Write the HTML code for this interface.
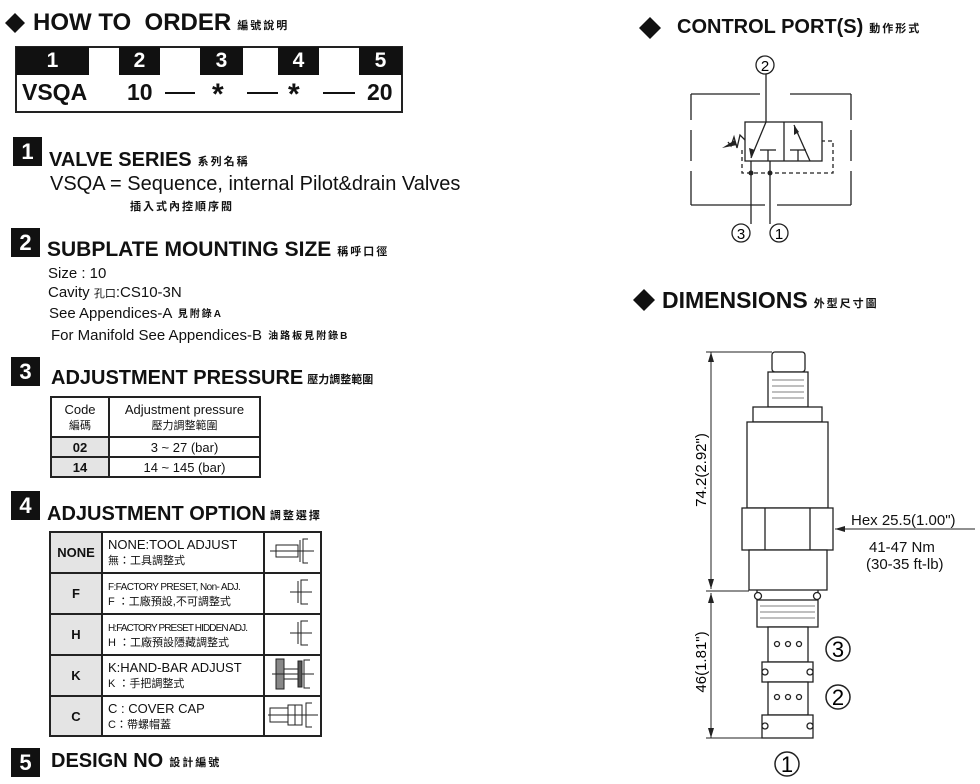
<!DOCTYPE html>
<html><head><meta charset="utf-8"><style>
body{margin:0;width:980px;height:784px;background:#fff;position:relative;overflow:hidden;font-family:"Liberation Sans","Noto Sans CJK TC",sans-serif;color:#111}
.t{position:absolute;white-space:nowrap;line-height:1}
.b{font-weight:bold}
.cj{font-size:11px;font-weight:bold;letter-spacing:2px;margin-left:6px;vertical-align:1px}
.nb{position:absolute;background:#111;color:#fff;font-weight:bold;font-size:22px;text-align:center;width:29px;height:29px;line-height:29px}
table{position:absolute;border-collapse:collapse}
td{border:2px solid #222;text-align:center;padding:0}
.cd{font-size:10px;letter-spacing:-0.6px}
</style></head><body>
<svg width="980" height="784" style="position:absolute;left:0;top:0">
<polygon points="15,13 25,23 15,33 5,23" fill="#111"/>
<polygon points="650,17 661,28 650,39 639,28" fill="#111"/>
<polygon points="644,289 655,300 644,311 633,300" fill="#111"/>
<rect x="16" y="47" width="386" height="65" fill="#fff" stroke="#222" stroke-width="2"/>
<rect x="16" y="47" width="73" height="28" fill="#111"/>
<rect x="119" y="47" width="41" height="28" fill="#111"/>
<rect x="200" y="47" width="43" height="28" fill="#111"/>
<rect x="278" y="47" width="41" height="28" fill="#111"/>
<rect x="359" y="47" width="43" height="28" fill="#111"/>
<g stroke="#111" stroke-width="2"><line x1="165" y1="93" x2="195" y2="93"/><line x1="247" y1="93" x2="278" y2="93"/><line x1="323" y1="93" x2="355" y2="93"/></g>
<g stroke="#222" stroke-width="1.3" fill="none">
<path d="M691,94H760M790,94H851M691,205H765M777,205H851M691,94V120M691,130V161M691,171V205M851,94V120M851,130V161M851,171V205"/>
<rect x="745" y="122" width="77" height="39"/>
<line x1="784" y1="122" x2="784" y2="161"/>
<line x1="766" y1="74" x2="766" y2="122"/>
<line x1="766" y1="122" x2="751" y2="158"/>
<line x1="794" y1="125" x2="810" y2="161"/>
<line x1="760" y1="150" x2="776" y2="150"/><line x1="768" y1="150" x2="768" y2="161"/>
<line x1="790" y1="150" x2="806" y2="150"/><line x1="798" y1="150" x2="798" y2="161"/>
<path d="M742,150V173H833V141H822" stroke-dasharray="4 3"/>
<line x1="751" y1="161" x2="751" y2="224"/>
<line x1="770" y1="161" x2="770" y2="224"/>
<path d="M745,140L740,135L737,148L734,137L731,146L728,142"/>
<circle cx="765" cy="65" r="9"/><circle cx="741" cy="233" r="9"/><circle cx="779" cy="233" r="9"/>
</g>
<polygon points="751,158 749,148 755,150" fill="#222"/>
<polygon points="794,125 794,135 799,132" fill="#222"/>
<polygon points="722,148 735,140 737,145" fill="#222"/>
<circle cx="751" cy="173" r="2.5" fill="#222"/><circle cx="770" cy="173" r="2.5" fill="#222"/>
<text x="765" y="71" font-size="15" text-anchor="middle" font-family="Liberation Sans">2</text>
<text x="741" y="239" font-size="15" text-anchor="middle" font-family="Liberation Sans">3</text>
<text x="779" y="239" font-size="15" text-anchor="middle" font-family="Liberation Sans">1</text>
<g stroke="#222" stroke-width="1.3" fill="#fff">
<rect x="772" y="352" width="33" height="20" rx="3"/>
<rect x="768" y="372" width="40" height="35"/>
<rect x="753" y="407" width="69" height="15"/>
<rect x="747" y="422" width="81" height="86"/>
<rect x="742" y="508" width="91" height="42"/>
<line x1="765" y1="508" x2="765" y2="550"/><line x1="810" y1="508" x2="810" y2="550"/>
<rect x="749" y="550" width="78" height="40"/>
<rect x="757" y="600" width="61" height="27"/>
<rect x="768" y="627" width="40" height="35"/>
<rect x="762" y="662" width="51" height="20"/>
<rect x="768" y="682" width="40" height="33"/>
<rect x="762" y="715" width="51" height="23"/>
<line x1="757" y1="590" x2="757" y2="600"/><line x1="818" y1="590" x2="818" y2="600"/>
<circle cx="758" cy="596" r="3.5"/><circle cx="817" cy="596" r="3.5"/>
<circle cx="765" cy="672" r="3"/><circle cx="810" cy="672" r="3"/>
<circle cx="765" cy="726" r="3"/><circle cx="810" cy="726" r="3"/>
<circle cx="777" cy="644" r="2.5"/><circle cx="788" cy="644" r="2.5"/><circle cx="799" cy="644" r="2.5"/>
<circle cx="777" cy="697" r="2.5"/><circle cx="788" cy="697" r="2.5"/><circle cx="799" cy="697" r="2.5"/>
</g>
<g stroke="#555" stroke-width="0.8"><line x1="772" y1="380" x2="804" y2="380"/><line x1="772" y1="386" x2="804" y2="386"/><line x1="772" y1="392" x2="804" y2="392"/><line x1="772" y1="398" x2="804" y2="398"/>
<line x1="760" y1="606" x2="815" y2="606"/><line x1="760" y1="612" x2="815" y2="612"/><line x1="760" y1="618" x2="815" y2="618"/></g>
<g stroke="#222" stroke-width="1" fill="none">
<line x1="706" y1="352" x2="772" y2="352"/><line x1="706" y1="591" x2="749" y2="591"/><line x1="706" y1="738" x2="762" y2="738"/>
<line x1="711" y1="352" x2="711" y2="589"/><line x1="711" y1="593" x2="711" y2="738"/>
<line x1="835" y1="529" x2="975" y2="529"/>
<circle cx="838" cy="649" r="12" stroke-width="1.5"/><circle cx="838" cy="697" r="12" stroke-width="1.5"/><circle cx="787" cy="764" r="12" stroke-width="1.5"/>
</g>
<g fill="#222"><polygon points="711,352 708,362 714,362"/><polygon points="711,589 708,579 714,579"/><polygon points="711,593 708,603 714,603"/><polygon points="711,738 708,728 714,728"/><polygon points="835,529 845,526 845,532"/></g>
<text x="838" y="657" font-size="22" text-anchor="middle" font-family="Liberation Sans">3</text>
<text x="838" y="705" font-size="22" text-anchor="middle" font-family="Liberation Sans">2</text>
<text x="787" y="772" font-size="22" text-anchor="middle" font-family="Liberation Sans">1</text>
<text transform="translate(706,470) rotate(-90)" font-size="15" text-anchor="middle" font-family="Liberation Sans">74.2(2.92")</text>
<text transform="translate(706,662) rotate(-90)" font-size="15" text-anchor="middle" font-family="Liberation Sans">46(1.81")</text>
</svg>

<div class="t b" style="left:33px;top:11px;font-size:24px">HOW TO&nbsp; ORDER<span class="cj">編號說明</span></div>
<div class="t b" style="left:16px;top:50px;width:73px;text-align:center;color:#fff;font-size:21px">1</div>
<div class="t b" style="left:119px;top:50px;width:41px;text-align:center;color:#fff;font-size:21px">2</div>
<div class="t b" style="left:200px;top:50px;width:43px;text-align:center;color:#fff;font-size:21px">3</div>
<div class="t b" style="left:278px;top:50px;width:41px;text-align:center;color:#fff;font-size:21px">4</div>
<div class="t b" style="left:359px;top:50px;width:43px;text-align:center;color:#fff;font-size:21px">5</div>
<div class="t b" style="left:22px;top:81px;font-size:23px">VSQA</div>
<div class="t b" style="left:127px;top:81px;font-size:23px">10</div>
<div class="t b" style="left:212px;top:80px;font-size:30px">*</div>
<div class="t b" style="left:288px;top:80px;font-size:30px">*</div>
<div class="t b" style="left:367px;top:81px;font-size:23px">20</div>

<div class="nb" style="left:13px;top:137px">1</div>
<div class="t b" style="left:49px;top:150px;font-size:20px">VALVE SERIES<span class="cj">系列名稱</span></div>
<div class="t" style="left:50px;top:174px;font-size:20px">VSQA = Sequence, internal Pilot&amp;drain Valves</div>
<div class="t cj" style="left:124px;top:202px">插入式內控順序閥</div>

<div class="nb" style="left:11px;top:228px">2</div>
<div class="t b" style="left:47px;top:239px;font-size:21px">SUBPLATE MOUNTING SIZE<span class="cj">稱呼口徑</span></div>
<div class="t" style="left:48px;top:266px;font-size:15px">Size : 10</div>
<div class="t" style="left:48px;top:285px;font-size:15px">Cavity <span style="font-size:11px">孔口</span>:CS10-3N</div>
<div class="t" style="left:49px;top:306px;font-size:15px">See Appendices-A <span class="cj" style="font-size:10px;margin-left:2px">見附錄A</span></div>
<div class="t" style="left:51px;top:328px;font-size:15px">For Manifold See Appendices-B <span class="cj" style="font-size:10px;margin-left:2px">油路板見附錄B</span></div>

<div class="nb" style="left:11px;top:357px">3</div>
<div class="t b" style="left:51px;top:368px;font-size:20px">ADJUSTMENT PRESSURE<span class="cj" style="letter-spacing:0;margin-left:4px">壓力調整範圍</span></div>
<table style="left:50px;top:396px;width:211px;font-size:13px">
<tr style="height:40px"><td style="width:56px">Code<br><span style="font-size:11px">編碼</span></td><td>Adjustment pressure<br><span style="font-size:11px">壓力調整範圍</span></td></tr>
<tr style="height:20px"><td class="b" style="background:#e4e4e4">02</td><td>3 ~ 27 (bar)</td></tr>
<tr style="height:20px"><td class="b" style="background:#e4e4e4">14</td><td>14 ~ 145 (bar)</td></tr>
</table>

<div class="nb" style="left:11px;top:491px">4</div>
<div class="t b" style="left:47px;top:504px;font-size:20px">ADJUSTMENT OPTION<span class="cj" style="margin-left:4px">調整選擇</span></div>
<table style="left:49px;top:531px;width:273px;font-size:12px">
<tr style="height:41px"><td class="b" style="width:50px;background:#e4e4e4;font-size:13px">NONE</td><td style="text-align:left;padding-left:5px;width:155px;font-size:13px">NONE:TOOL ADJUST<br><span style="font-size:11px">無：工具調整式</span></td><td><svg width="50" height="30"><g stroke="#222" fill="none"><rect x="8" y="9" width="22" height="12"/><line x1="2" y1="15" x2="46" y2="15"/><line x1="32" y1="4" x2="32" y2="26"/><path d="M40,3H35V27H40"/></g></svg></td></tr>
<tr style="height:41px"><td class="b" style="background:#e4e4e4;font-size:13px">F</td><td style="text-align:left;padding-left:5px"><span class="cd">F:FACTORY PRESET, Non- ADJ.</span><br><span style="font-size:11px">F ：工廠預設,不可調整式</span></td><td><svg width="50" height="30"><g stroke="#222" fill="none"><line x1="22" y1="15" x2="44" y2="15"/><line x1="30" y1="4" x2="30" y2="26"/><path d="M40,3H33V27H40"/></g></svg></td></tr>
<tr style="height:41px"><td class="b" style="background:#e4e4e4;font-size:13px">H</td><td style="text-align:left;padding-left:5px"><span class="cd" style="letter-spacing:-0.9px">H:FACTORY PRESET HIDDEN ADJ.</span><br><span style="font-size:11px">H ：工廠預設隱藏調整式</span></td><td><svg width="50" height="30"><g stroke="#222" fill="none"><line x1="22" y1="15" x2="44" y2="15"/><line x1="30" y1="4" x2="30" y2="26"/><path d="M40,3H33V27H40"/></g></svg></td></tr>
<tr style="height:41px"><td class="b" style="background:#e4e4e4;font-size:13px">K</td><td style="text-align:left;padding-left:5px;font-size:13px">K:HAND-BAR ADJUST<br><span style="font-size:11px">K ：手把調整式</span></td><td><svg width="50" height="34"><g stroke="#222" fill="none"><rect x="8" y="2" width="8" height="30" fill="#888"/><line x1="4" y1="17" x2="46" y2="17"/><rect x="16" y="12" width="14" height="10"/><rect x="30" y="4" width="4" height="26" fill="#555"/><path d="M42,3H36V31H42"/></g></svg></td></tr>
<tr style="height:40px"><td class="b" style="background:#e4e4e4;font-size:13px">C</td><td style="text-align:left;padding-left:5px;font-size:13px">C : COVER CAP<br><span style="font-size:11px">C：帶螺帽蓋</span></td><td><svg width="54" height="30"><g stroke="#222" fill="none"><rect x="4" y="8" width="18" height="14"/><rect x="22" y="5" width="14" height="20"/><line x1="29" y1="5" x2="29" y2="25"/><line x1="2" y1="15" x2="52" y2="15"/><path d="M46,3H40V27H46"/></g></svg></td></tr>
</table>

<div class="nb" style="left:11px;top:748px">5</div>
<div class="t b" style="left:51px;top:751px;font-size:20px">DESIGN NO<span class="cj">設計編號</span></div>

<div class="t b" style="left:677px;top:17px;font-size:20px">CONTROL PORT(S)<span class="cj">動作形式</span></div>
<div class="t b" style="left:662px;top:289px;font-size:23px">DIMENSIONS<span class="cj">外型尺寸圖</span></div>
<div class="t" style="left:851px;top:513px;font-size:15px">Hex 25.5(1.00")</div>
<div class="t" style="left:869px;top:540px;font-size:15px">41-47 Nm</div>
<div class="t" style="left:866px;top:557px;font-size:15px">(30-35 ft-lb)</div>
</body></html>
